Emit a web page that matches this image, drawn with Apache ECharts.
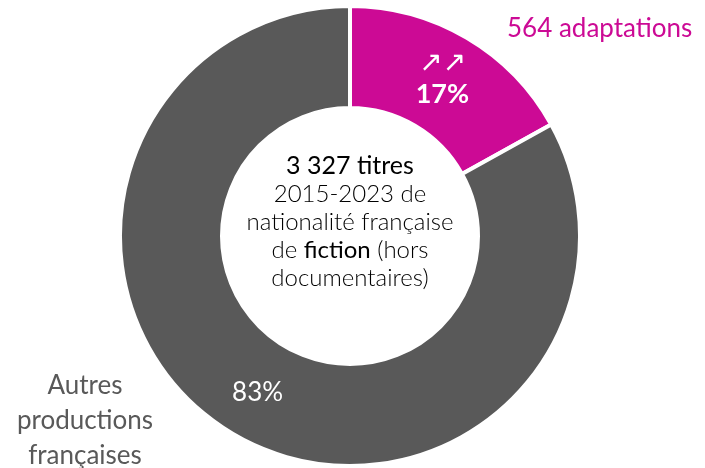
<!DOCTYPE html>
<html>
<head>
<meta charset="utf-8">
<script src="https://cdn.jsdelivr.net/npm/echarts@6/dist/echarts.min.js"></script>
<style>
  html, body { margin: 0; padding: 0; background: #fff; }
  #chart { width: 705px; height: 468px; }
</style>
</head>
<body>
<div id="chart"></div>
<script>
const categories = ['564 adaptations', 'Autres productions françaises']
const values = [564, 2763]
const colors = ['#cc0a95', '#595959']

const chart = echarts.init(document.getElementById('chart'))
const font = 'Lato, "Open Sans", sans-serif'

const option = {
  animation: false,
  series: [{
    type: 'pie',
    center: [350, 236],
    radius: [128, 230],
    startAngle: 90,
    clockwise: true,
    silent: true,
    itemStyle: { borderColor: '#fff', borderWidth: 4 },
    label: {
      position: 'inside',
      formatter: (p) => p.dataIndex === 0
        ? '{arr|↗↗}\n{big|' + Math.round(p.percent) + '%}'
        : '{light|' + Math.round(p.percent) + '%}',
      rich: {
        arr: { fontFamily: '"DejaVu Sans"', fontSize: 28, color: '#fff', lineHeight: 30 },
        big: { fontFamily: font, fontSize: 27, fontWeight: 'bold', color: '#fff', lineHeight: 30 },
        light: { fontFamily: font, fontSize: 26, color: '#fff' }
      }
    },
    labelLine: { show: false },
    data: categories.map((c, i) => ({ name: c, value: values[i], itemStyle: { color: colors[i] } }))
  }],
  graphic: [
    {
      type: 'text', left: 507, top: 16,
      style: { text: '564 adaptations', fill: '#cc0a95', font: '26px ' + font }
    },
    {
      type: 'text', x: 85, y: 368,
      style: {
        text: 'Autres\nproductions\nfrançaises', fill: '#595959', align: 'center',
        font: '26px ' + font, lineHeight: 35
      }
    },
    {
      type: 'text', x: 350, y: 152,
      style: {
        align: 'center',
        text: '{b|3 327 titres}\n{l|2015-2023 de}\n{l|nationalité française}\n{l|de }{r|fiction}{l| (hors}\n{l|documentaires)}',
        rich: {
          b: { fontFamily: font, fontSize: 25, color: '#111', lineHeight: 28, align: 'center' },
          l: { fontFamily: font, fontSize: 24, fontWeight: 300, color: '#222', lineHeight: 28, align: 'center' },
          r: { fontFamily: font, fontSize: 24, color: '#111', lineHeight: 28 }
        }
      }
    }
  ]
}

chart.setOption(option)
</script>
</body>
</html>
